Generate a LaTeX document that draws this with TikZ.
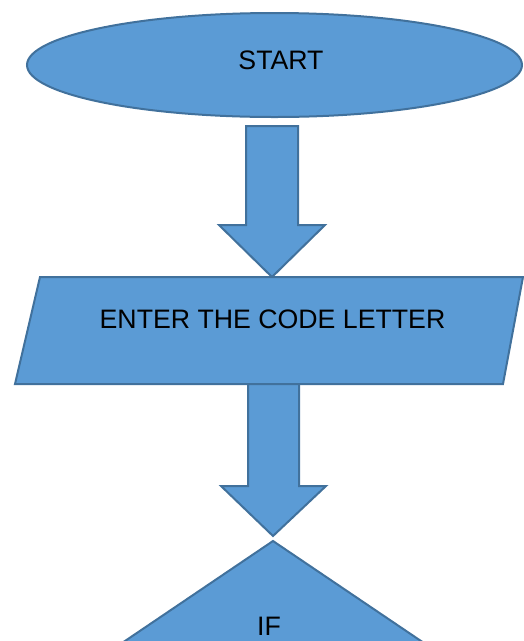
\documentclass[tikz,border=0pt]{standalone}
\usepackage{fontspec}
\setmainfont{Liberation Sans}
\usetikzlibrary{shapes.geometric}
\definecolor{boxfill}{HTML}{5B9BD5}
\definecolor{boxline}{HTML}{41719C}
\begin{document}
\begin{tikzpicture}[x=1pt,y=-1pt,
  shapebox/.style={draw=boxline,fill=boxfill,line width=2pt,line join=miter},
  label/.style={font=\fontsize{26.7}{32}\selectfont,text=black,inner sep=0pt,anchor=base}]
\useasboundingbox (0,0) rectangle (524,641);
\clip (0,0) rectangle (524,641);
% start ellipse
\node[shapebox,ellipse,minimum width=495pt,minimum height=104pt,inner sep=0pt] (start) at (274.5,65) {};
\node[label] (starttext) at (281,69) {START};
% arrow 1
\coordinate (a1top) at (272,126);
\coordinate (a1tip) at (272,277);
\draw[shapebox] (246,126) -- (298,126) -- (298,225) -- (325,225) -- (a1tip) -- (219,225) -- (246,225) -- cycle;
% input parallelogram
\draw[shapebox] (40,277) -- (523,277) -- (503,384) -- (15,384) -- cycle;
\node[label] (enter) at (272.5,328) {ENTER THE CODE LETTER};
% arrow 2
\coordinate (a2tip) at (273,536);
\draw[shapebox] (248,384) -- (299,384) -- (299,486) -- (326,486) -- (a2tip) -- (221,486) -- (248,486) -- cycle;
% decision diamond
\coordinate (dtop) at (273,541);
\draw[shapebox] (dtop) -- (273+148*2.2,541+220) -- (273,541+440) -- (273-148*2.2,541+220) -- cycle;
\node[label] (iftext) at (269,635) {IF};
\end{tikzpicture}
\end{document}
